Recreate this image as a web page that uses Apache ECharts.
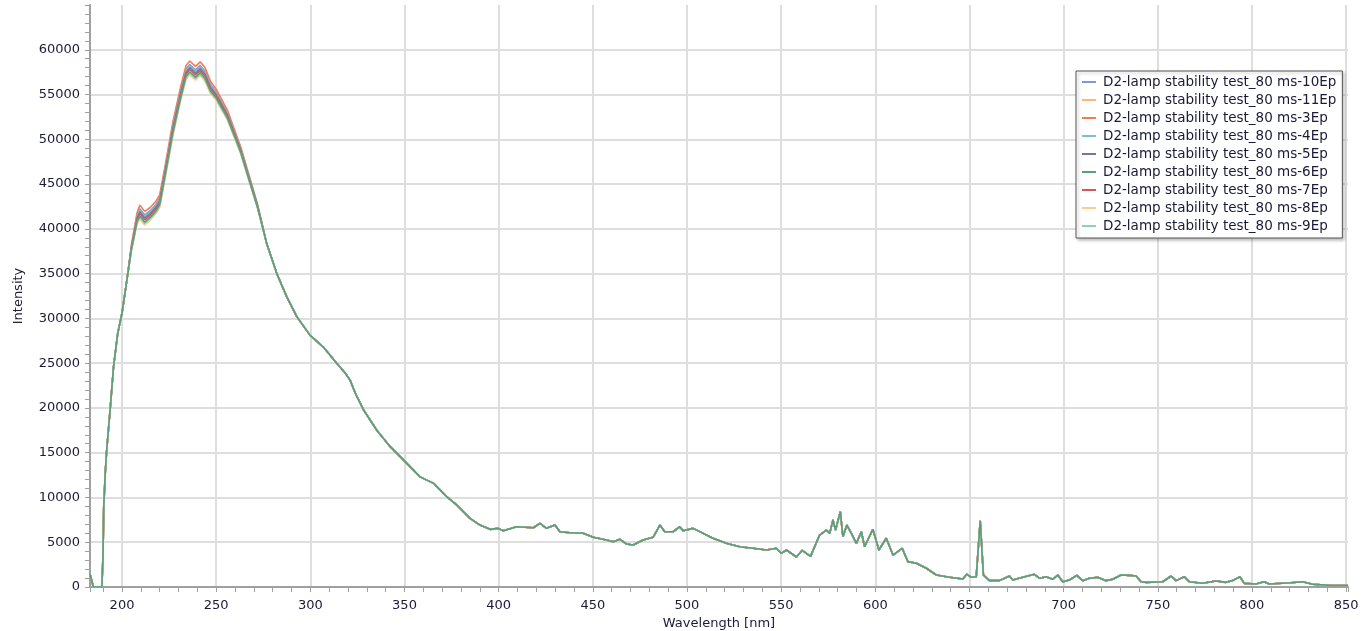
<!DOCTYPE html>
<html>
<head>
<meta charset="utf-8">
<title>D2-lamp stability test</title>
<script src="https://cdn.jsdelivr.net/npm/echarts@6/dist/echarts.min.js"></script>
<style>
  html, body { margin: 0; padding: 0; background: #fff; }
  #chart { width: 1370px; height: 631px; }
</style>
</head>
<body>
<div id="chart"></div>
<script>
// series names as shown in the legend
const seriesNames = [
  'D2-lamp stability test_80 ms-10Ep',
  'D2-lamp stability test_80 ms-11Ep',
  'D2-lamp stability test_80 ms-3Ep',
  'D2-lamp stability test_80 ms-4Ep',
  'D2-lamp stability test_80 ms-5Ep',
  'D2-lamp stability test_80 ms-6Ep',
  'D2-lamp stability test_80 ms-7Ep',
  'D2-lamp stability test_80 ms-8Ep',
  'D2-lamp stability test_80 ms-9Ep'
]
const lineColor = ['#7b9bd0', '#f9b77a', '#f47a55', '#82bccf', '#6f7a9e', '#5c9e78', '#d9545f', '#f9cf8f', '#8fd0b5']

// start of the spectrum (all curves overlap here)
const wlHead = [183, 183.8, 184.8, 189.3, 189.9, 190.3, 191.1, 191.8, 193.8, 195.5, 197.7, 200, 202.6]
const headValues = [1450, 1300, 0, 0, 3400, 9000, 12700, 15100, 20100, 24600, 28300, 30600, 34300]

// peak region, where the exposures separate
const wlPeak = [205, 208, 209.5, 212, 215, 218, 220, 223, 227, 231, 234, 236, 239, 241.5, 244, 247, 250, 256, 263, 268, 272]
const peak10Ep = [38040, 41480, 42250, 41550, 42020, 42720, 43420, 46820, 51550, 55350, 57850, 58350, 57750, 58250, 57650, 56120, 55280, 52950, 48980, 45440, 42610]
const peak11Ep = [37620, 40640, 41200, 40500, 41070, 41770, 42470, 45870, 50500, 54300, 56800, 57300, 56700, 57200, 56600, 55170, 54440, 52210, 48450, 45020, 42290]
const peak3Ep = [38200, 41800, 42650, 41950, 42380, 43080, 43780, 47180, 51950, 55750, 58250, 58750, 58150, 58650, 58050, 56480, 55600, 53230, 49180, 45600, 42730]
const peak4Ep = [37980, 41360, 42100, 41400, 41880, 42580, 43280, 46680, 51400, 55200, 57700, 58200, 57600, 58100, 57500, 55980, 55160, 52840, 48900, 45380, 42560]
const peak5Ep = [37900, 41200, 41900, 41200, 41700, 42400, 43100, 46500, 51200, 55000, 57500, 58000, 57400, 57900, 57300, 55800, 55000, 52700, 48800, 45300, 42500]
const peak6Ep = [37720, 40840, 41450, 40750, 41300, 42000, 42700, 46100, 50750, 54550, 57050, 57550, 56950, 57450, 56850, 55400, 54640, 52390, 48580, 45120, 42370]
const peak7Ep = [37820, 41040, 41700, 41000, 41520, 42220, 42920, 46320, 51000, 54800, 57300, 57800, 57200, 57700, 57100, 55620, 54840, 52560, 48700, 45220, 42440]
const peak8Ep = [37580, 40560, 41100, 40400, 40980, 41680, 42380, 45780, 50400, 54200, 56700, 57200, 56600, 57100, 56500, 55080, 54360, 52140, 48400, 44980, 42260]
const peak9Ep = [37660, 40720, 41300, 40600, 41160, 41860, 42560, 45960, 50600, 54400, 56900, 57400, 56800, 57300, 56700, 55260, 54520, 52280, 48500, 45060, 42320]
const peaks = [peak10Ep, peak11Ep, peak3Ep, peak4Ep, peak5Ep, peak6Ep, peak7Ep, peak8Ep, peak9Ep]

// long tail (all curves overlap here)
const wlTail = [
  276.9, 282.2, 287.5, 292.8, 299.9, 306.9, 314, 318.5, 321.1, 324, 328.2, 335.3, 342.3, 349.4, 358.2, 365.3, 372.4, 377.7, 384.8, 390.1, 395.4,
  399.8, 402.4, 409.5, 418.4, 421.9, 425.4, 429.9, 432.5, 437.8, 444.9, 450.2, 457.3, 460.8, 464.4, 467.9, 471.4, 476.7, 482, 485.6, 488.2,
  492.6, 496.2, 497.9, 503.2, 508.5, 513.8, 520.9, 528, 535, 542.2, 547.5, 550.1, 552.8, 558.1, 561.2, 565.6, 570.4, 574, 575.8, 577.5,
  578.9, 581.4, 582.8, 584.9, 587.3, 589.9, 592.6, 594.3, 598.7, 601.9, 605.8, 609.4, 614.3, 617.3, 621.8, 627.1, 632.4, 639.4, 646.5, 648.6,
  650.9, 653.6, 655.7, 657.4, 660.6, 665.9, 671.2, 673, 678.3, 684.5, 687.2, 690.7, 694.2, 696.9, 699.5, 703.1, 707, 710.1, 713.7, 718.1,
  722.5, 726.1, 730.5, 734.9, 738.5, 741.1, 743.8, 752.6, 757.1, 759.7, 764.1, 766.7, 773.8, 780.9, 786.2, 789.7, 793.6, 795.9, 802.1, 806.5,
  809.2, 820.7, 826.9, 832.2, 841, 851
]
const tailValues = [
  38300, 35000, 32400, 30200, 28100, 26800, 25000, 23900, 23100, 21600, 19800, 17500, 15700, 14200, 12300, 11600, 10100, 9160, 7670, 6920, 6440,
  6550, 6290, 6730, 6620, 7110, 6550, 6920, 6170, 6060, 6000, 5550, 5250, 5060, 5330, 4800, 4690, 5250, 5550, 6920, 6170,
  6170, 6730, 6290, 6550, 6000, 5440, 4880, 4500, 4320, 4130, 4320, 3760, 4130, 3350, 4100, 3420, 5800, 6360, 6000, 7480,
  6360, 8410, 5620, 6920, 6000, 4880, 6170, 4500, 6440, 4130, 5440, 3570, 4320, 2830, 2650, 2090, 1340, 1080, 890, 1450,
  1080, 1150, 7400, 1340, 710, 710, 1230, 780, 1080, 1420, 970, 1150, 860, 1340, 590, 780, 1300, 710, 970, 1080,
  710, 860, 1340, 1300, 1230, 590, 520, 590, 1230, 710, 1150, 590, 410, 670, 520, 710, 1150, 410, 330, 590,
  330, 480, 590, 300, 190, 150
]

function zip(xs, ys) {
  return xs.map((x, i) => [x, ys[i]])
}

const font = 'DejaVu Sans'
const textColor = '#1a1a3a'
const axisColor = '#a0a0a0'
const gridColor = '#dedede'

const chart = echarts.init(document.getElementById('chart'))

const series = seriesNames.map((name, i) => ({
  name: name,
  type: 'line',
  symbol: 'none',
  showSymbol: false,
  z: name.endsWith('-6Ep') ? 3 : 2,
  lineStyle: { width: 1.6, color: lineColor[i] },
  itemStyle: { color: lineColor[i] },
  data: [...zip(wlHead, headValues), ...zip(wlPeak, peaks[i]), ...zip(wlTail, tailValues)]
}))

chart.setOption({
  animation: false,
  backgroundColor: '#fff',
  textStyle: { fontFamily: font },
  grid: {
    left: 90,
    right: 22,
    top: 5,
    bottom: 44,
    containLabel: false,
    outerBoundsMode: 'none'
  },
  legend: {
    orient: 'vertical',
    left: 1076,
    top: 71,
    padding: [3, 6, 4, 6],
    itemGap: 2,
    itemWidth: 14,
    itemHeight: 2,
    icon: 'rect',
    backgroundColor: '#fff',
    borderColor: '#555',
    borderWidth: 1,
    borderRadius: 0,
    shadowColor: 'rgba(0, 0, 0, 0.25)',
    shadowBlur: 3,
    shadowOffsetX: 2,
    shadowOffsetY: 2,
    textStyle: {
      fontFamily: font,
      fontSize: 13.5,
      lineHeight: 16,
      color: textColor,
      padding: [0, 0, 0, 2]
    },
    data: seriesNames
  },
  xAxis: {
    type: 'value',
    min: 183,
    max: 851,
    splitNumber: 13,
    name: 'Wavelength [nm]',
    nameLocation: 'middle',
    nameGap: 26,
    nameTextStyle: { fontFamily: font, fontSize: 13, color: textColor },
    axisLine: { lineStyle: { color: axisColor, width: 2 } },
    axisTick: { show: true, length: 5, lineStyle: { color: axisColor } },
    minorTick: { show: true, splitNumber: 5, length: 5, lineStyle: { color: axisColor } },
    axisLabel: {
      margin: 12,
      fontFamily: font,
      fontSize: 13,
      color: textColor,
      showMinLabel: false,
      showMaxLabel: false,
      formatter: v => String(v)
    },
    splitLine: {
      show: true,
      showMinLine: false,
      showMaxLine: false,
      lineStyle: { color: gridColor, width: 2 }
    }
  },
  yAxis: {
    type: 'value',
    min: 0,
    max: 65000,
    interval: 5000,
    name: 'Intensity',
    nameLocation: 'middle',
    nameGap: 65,
    nameRotate: 90,
    nameTextStyle: { fontFamily: font, fontSize: 13, color: textColor },
    axisLine: { show: true, lineStyle: { color: axisColor, width: 2 } },
    axisTick: { show: true, length: 5, lineStyle: { color: axisColor } },
    minorTick: { show: true, splitNumber: 5, length: 5, lineStyle: { color: axisColor } },
    axisLabel: {
      margin: 10,
      fontFamily: font,
      fontSize: 13,
      color: textColor,
      showMaxLabel: false,
      formatter: v => String(v)
    },
    splitLine: {
      show: true,
      showMinLine: false,
      showMaxLine: false,
      lineStyle: { color: gridColor, width: 2 }
    }
  },
  series: series
})
</script>
</body>
</html>
